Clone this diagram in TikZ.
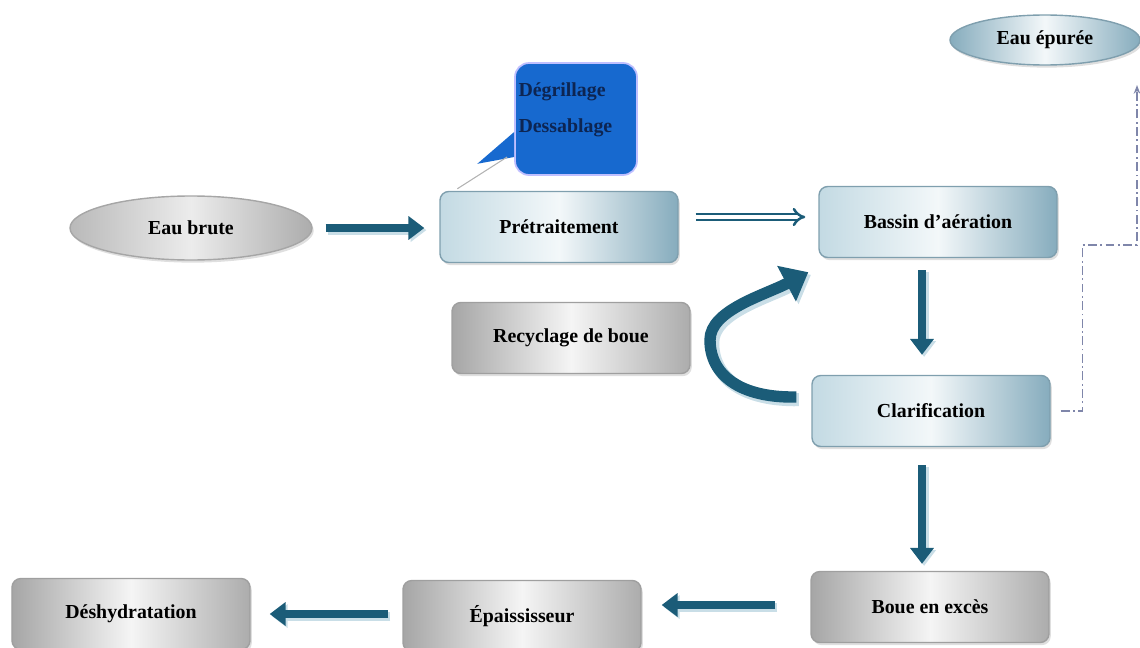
\documentclass[tikz,border=0pt]{standalone}
\usepackage{fontspec}
\setmainfont{Liberation Serif}
\usetikzlibrary{arrows.meta,shapes.geometric,shadows}

\definecolor{flowteal}{HTML}{1B5C78}
\definecolor{flowglow}{HTML}{C9DEE7}
\definecolor{boxedge}{HTML}{7F9FAE}
\definecolor{boxlight}{HTML}{C3DAE3}
\definecolor{boxdark}{HTML}{86ACBD}
\definecolor{calloutblue}{HTML}{1769CF}
\definecolor{callouttext}{HTML}{0D2552}
\definecolor{outletline}{HTML}{7F86AA}

\tikzset{
  stage/.style={rectangle, rounded corners=5pt, draw=boxedge, line width=0.8pt,
    minimum width=4.76cm, minimum height=1.42cm,
    left color=boxlight, right color=boxdark, middle color=white!80!boxlight,
    font=\bfseries\fontsize{11.3}{13.5}\selectfont,
    drop shadow={opacity=0.25, shadow xshift=1pt, shadow yshift=-1.5pt}},
  sludge/.style={stage, draw=gray!75,
    left color=gray!70, right color=gray!65, middle color=gray!8},
  water/.style={ellipse, draw=gray!70, line width=0.8pt, inner sep=0pt,
    minimum width=4.84cm, minimum height=1.28cm,
    left color=gray!55, right color=gray!65, middle color=gray!15,
    font=\bfseries\fontsize{11.3}{13.5}\selectfont,
    drop shadow={opacity=0.25, shadow xshift=1pt, shadow yshift=-1.5pt}},
  cleanwater/.style={water, draw=boxedge, minimum width=3.8cm, minimum height=1.0cm,
    left color=boxdark, right color=boxdark, middle color=white!80!boxlight},
  bubble/.style={rectangle, rounded corners=8pt, fill=calloutblue,
    draw=blue!25!white, line width=1pt, minimum width=2.44cm, minimum height=2.24cm,
    text width=2.3cm, inner sep=1.5pt, align=left, text=callouttext,
    font=\bfseries\fontsize{11.3}{13.5}\selectfont},
  flowarrow/.style={draw=flowteal, line width=4pt,
    -{Triangle[length=9pt,width=13pt]},
    preaction={draw=flowglow, line width=5pt, transform canvas={shift={(1.2pt,-1.2pt)}}}},
  thinflow/.style={draw=flowteal, line width=1.4pt, double=white,
    double distance=2pt, -{Implies}},
  recycle/.style={draw=flowteal, line width=6.5pt,
    -{Triangle[length=14pt,width=22pt]},
    preaction={draw=flowglow, line width=7.5pt, transform canvas={shift={(1.5pt,-1.5pt)}}}},
  outflow/.style={draw=outletline, line width=0.8pt,
    dash pattern=on 5pt off 2pt on 1pt off 2pt, -{Stealth[length=5pt]}}
}

\begin{document}
\begin{tikzpicture}
  \useasboundingbox (0,0) rectangle (22.8,-12.96);

  % Water line
  \node[water] (ebrute) at (3.82,-4.56) {Eau brute};
  \node[stage] (pretrait) at (11.18,-4.54) {Prétraitement};
  \node[stage] (bassin) at (18.76,-4.44) {Bassin d'aération};
  \node[stage] (clarif) at (18.62,-8.22) {Clarification};
  \node[cleanwater] (epuree) at (20.9,-0.8) {Eau épurée};

  % Pretreatment callout
  \node[bubble] (callout) at (11.52,-2.38) {Dégrillage\\[6.5pt]Dessablage\\[-0.5pt]~};
  \fill[calloutblue] ([yshift=-0.26cm]callout.west) -- ([yshift=-0.76cm]callout.west)
    -- ([xshift=0.76cm,yshift=0.54cm]pretrait.north west) -- cycle;
  \draw[gray!60, line width=0.6pt] ([xshift=0.36cm,yshift=0.04cm]pretrait.north west)
    -- ([xshift=-0.14cm,yshift=-0.76cm]callout.west);

  % Sludge line
  \node[sludge] (recyc) at (11.42,-6.76) {Recyclage de boue};
  \node[sludge] (boue) at (18.6,-12.14) {Boue en excès};
  \node[sludge] (epais) at (10.44,-12.32) {Épaississeur};
  \node[sludge] (deshyd) at (2.62,-12.28) {Déshydratation};

  % Arrows between stages
  \draw[flowarrow, shorten <=0.26cm, shorten >=0.3cm]
    (ebrute.east) -- (ebrute.east -| pretrait.west);
  \draw[thinflow, shorten <=0.34cm, shorten >=0.26cm]
    ([yshift=0.2cm]pretrait.east) -- ([yshift=0.2cm]pretrait.east -| bassin.west);
  \draw[flowarrow, shorten <=0.24cm, shorten >=0.4cm]
    ([xshift=-0.32cm]bassin.south) -- ([xshift=-0.32cm]bassin.south |- clarif.north);
  \draw[flowarrow, shorten <=0.36cm, shorten >=0.14cm]
    ([xshift=-0.18cm]clarif.south) -- ([xshift=-0.18cm]clarif.south |- boue.north);
  \draw[flowarrow, shorten <=0.7cm, shorten >=0.4cm]
    ([yshift=0.04cm]boue.west) -- ([yshift=0.04cm]boue.west -| epais.east);
  \draw[flowarrow, shorten <=0.28cm, shorten >=0.38cm]
    ([yshift=0.04cm]epais.west) -- ([yshift=0.04cm]epais.west -| deshyd.east);

  % Return of sludge to the aeration tank
  \draw[recycle] ([xshift=-0.3cm,yshift=0.28cm]clarif.west)
    .. controls (14.8,-7.96) and (14.2,-7.5) .. (14.2,-6.8)
    .. controls (14.2,-6.2) and (15.3,-5.9) .. ([xshift=-0.2cm,yshift=-0.28cm]bassin.south west);

  % Treated water outlet
  \coordinate (epbend) at (22.74,-4.9);
  \coordinate (epin) at (22.74,-1.7);
  \draw[outflow] ([xshift=0.2cm]clarif.east) -- ++(0.44,0) |- (epbend) -- (epin);
\end{tikzpicture}
\end{document}
